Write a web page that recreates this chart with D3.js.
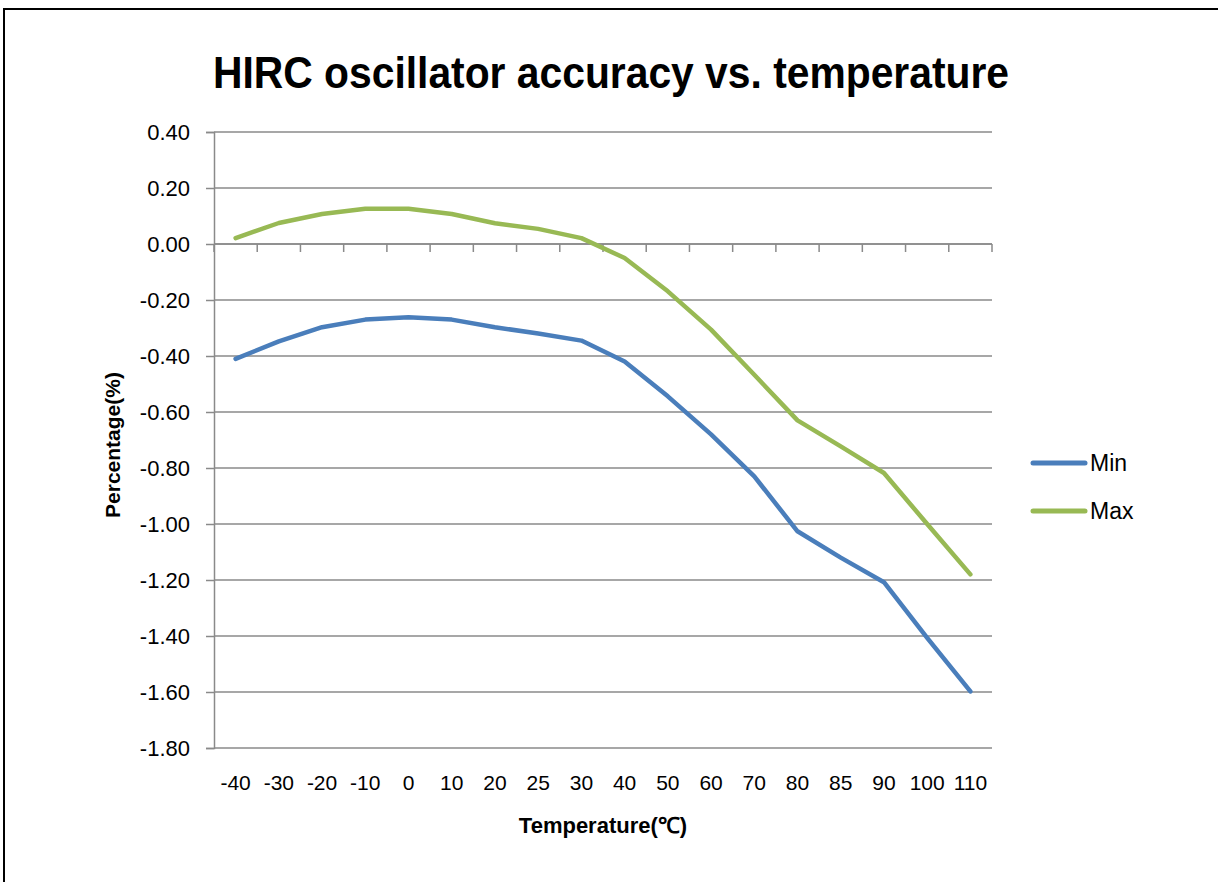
<!DOCTYPE html>
<html><head><meta charset="utf-8">
<script src="https://cdn.jsdelivr.net/npm/d3@7"></script>
<style>
html,body{margin:0;padding:0;background:#fff;}
text{font-family:"Liberation Sans",Arial,sans-serif;}
</style></head>
<body>
<svg id="chart" width="1218" height="882"></svg>
<script>
const categories = ["-40","-30","-20","-10","0","10","20","25","30","40","50","60","70","80","85","90","100","110"];
const minValues = [-0.41,-0.348,-0.297,-0.27,-0.262,-0.27,-0.297,-0.32,-0.345,-0.42,-0.544,-0.68,-0.83,-1.026,-1.12,-1.208,-1.407,-1.598];
const maxValues = [0.021,0.075,0.107,0.126,0.126,0.107,0.074,0.054,0.021,-0.05,-0.169,-0.306,-0.467,-0.63,-0.723,-0.818,-1.0,-1.18];
const yTicks = [0.4,0.2,0,-0.2,-0.4,-0.6,-0.8,-1.0,-1.2,-1.4,-1.6,-1.8];
const seriesNames = ["Min","Max"];
const titleText = "HIRC oscillator accuracy vs. temperature";
const xTitle = "Temperature(℃)";
const yTitle = "Percentage(%)";

const colors = ["#4a7ebb","#98b954"];
const svg = d3.select("#chart");
const L = 214, R = 992, T = 132, B = 748;

svg.append("rect").attr("x",4).attr("y",9).attr("width",1240).attr("height",900)
  .attr("fill","none").attr("stroke","#000").attr("stroke-width",2);

const x = d3.scaleBand().domain(categories).range([L,R]).padding(0);
const y = d3.scaleLinear().domain([-1.8,0.4]).range([B,T]);

// gridlines
svg.append("g").selectAll("line").data(yTicks).join("line")
  .attr("x1",L).attr("x2",R).attr("y1",d=>y(d)).attr("y2",d=>y(d))
  .attr("stroke","#8a8a8a").attr("stroke-width",1.5);

// y axis
const yAxis = d3.axisLeft(y).tickValues(yTicks).tickFormat(d=>d.toFixed(2)).tickSize(8).tickPadding(16);
const gy = svg.append("g").attr("transform",`translate(${L},0)`).call(yAxis);
gy.select(".domain").attr("stroke","#8a8a8a").attr("stroke-width",1.5);
gy.selectAll(".tick line").attr("stroke","#8a8a8a").attr("stroke-width",1.5);
gy.selectAll(".tick text").attr("font-size",22).attr("fill","#000")
  .attr("font-family","'Liberation Sans',Arial,sans-serif");

// x axis at y=0 with ticks at band boundaries
const gx = svg.append("g").attr("transform",`translate(0,${y(0)})`);
gx.append("line").attr("x1",L).attr("x2",R).attr("y1",0).attr("y2",0)
  .attr("stroke","#8a8a8a").attr("stroke-width",1.5);
const bounds = categories.map(c=>x(c)).concat([x(categories[categories.length-1])+x.bandwidth()]);
gx.selectAll("line.tk").data(bounds).join("line").attr("class","tk")
  .attr("x1",d=>d).attr("x2",d=>d).attr("y1",0).attr("y2",8)
  .attr("stroke","#8a8a8a").attr("stroke-width",1.5);

// x labels at bottom
svg.append("g").selectAll("text").data(categories).join("text")
  .attr("x",d=>x(d)+x.bandwidth()/2).attr("y",790)
  .attr("text-anchor","middle").attr("font-size",21).attr("fill","#000")
  .text(d=>d);

// lines
const line = d3.line().x((d,i)=>x(categories[i])+x.bandwidth()/2).y(d=>y(d));
[minValues,maxValues].forEach((vals,k)=>{
  svg.append("path").datum(vals).attr("d",line).attr("fill","none")
    .attr("stroke",colors[k]).attr("stroke-width",4.5)
    .attr("stroke-linejoin","round").attr("stroke-linecap","round");
});

// title
svg.append("text").attr("x",611).attr("y",88).attr("text-anchor","middle")
  .attr("font-size",44).attr("font-weight","bold")
  .attr("textLength",796).attr("lengthAdjust","spacingAndGlyphs")
  .text(titleText);

// axis titles
svg.append("text").attr("x",603).attr("y",833).attr("text-anchor","middle")
  .attr("font-size",22).attr("font-weight","bold").text(xTitle);
svg.append("text").attr("transform","translate(120,445) rotate(-90)").attr("text-anchor","middle")
  .attr("font-size",21).attr("font-weight","bold").text(yTitle);

// legend
const lg = svg.append("g");
seriesNames.forEach((n,k)=>{
  const yy = 463 + k*48;
  lg.append("line").attr("x1",1033).attr("x2",1085).attr("y1",yy).attr("y2",yy)
    .attr("stroke",colors[k]).attr("stroke-width",5).attr("stroke-linecap","round");
  lg.append("text").attr("x",1090).attr("y",yy+8).attr("font-size",23).attr("fill","#000").text(n);
});
</script>
</body></html>
